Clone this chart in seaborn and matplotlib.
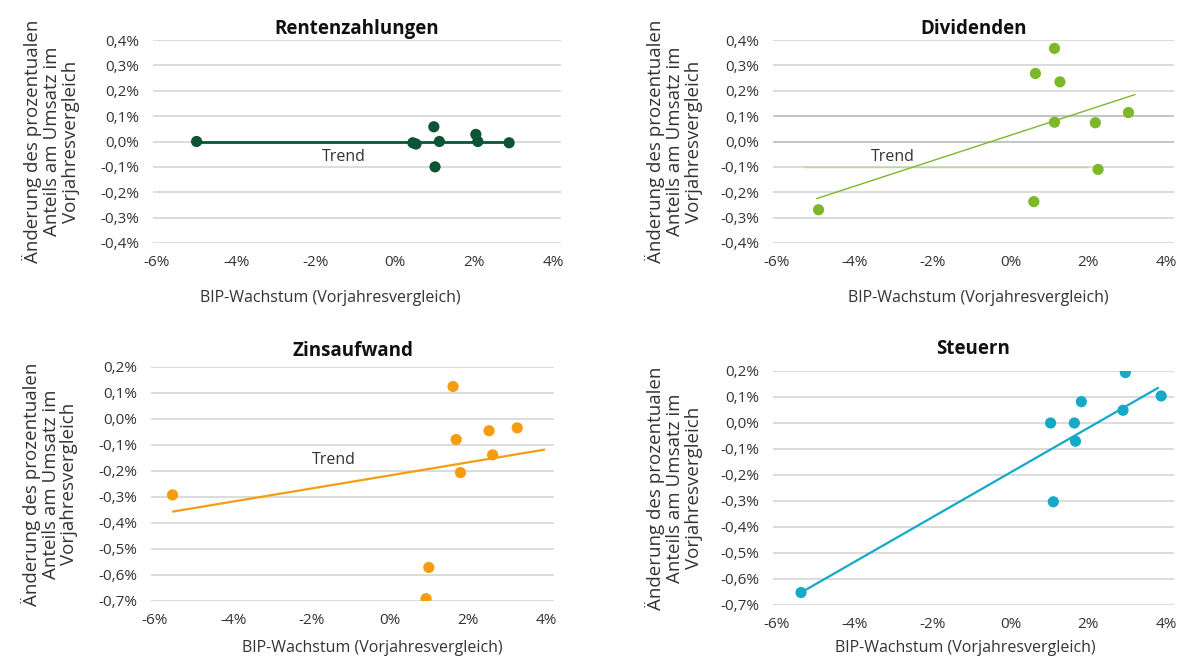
import numpy as np
import pandas as pd
import seaborn as sns
import matplotlib.pyplot as plt
from matplotlib.ticker import FuncFormatter

# Daten (BIP-Wachstum in %, Änderung in %)
renten_x = [-5.0, 0.46, 0.54, 0.99, 1.13, 1.02, 2.05, 2.10, 2.89]
renten_y = [0.0, -0.005, -0.01, 0.058, 0.0, -0.10, 0.028, 0.0, -0.005]
renten_trend_x = [-5.0, 2.9]
renten_trend_y = [0.0, 0.0]

divid_x = [1.13, 0.64, 1.27, 1.13, 2.18, 3.03, 2.25, 0.60, -4.93]
divid_y = [0.367, 0.268, 0.235, 0.076, 0.074, 0.114, -0.11, -0.237, -0.269]
divid_trend_x = [-4.98, 3.2]
divid_trend_y = [-0.225, 0.185]

zins_x = [-5.55, 1.62, 1.70, 2.54, 3.26, 2.63, 1.81, 1.00, 0.93]
zins_y = [-0.292, 0.125, -0.079, -0.045, -0.034, -0.138, -0.206, -0.571, -0.691]
zins_trend_x = [-5.54, 3.95]
zins_trend_y = [-0.356, -0.118]

steuer_x = [-5.38, 1.03, 1.10, 1.64, 1.67, 1.82, 2.89, 2.95, 3.87]
steuer_y = [-0.652, 0.0, -0.303, 0.0, -0.07, 0.082, 0.049, 0.194, 0.104]
steuer_trend_x = [-5.38, 3.79]
steuer_trend_y = [-0.652, 0.135]

titel = ["Rentenzahlungen", "Dividenden", "Zinsaufwand", "Steuern"]
farben = ["#0b5534", "#7cb82a", "#f59d0e", "#15a9c8"]

sns.set_theme(style="white")
plt.rcParams['font.family'] = ['Open Sans', 'DejaVu Sans']

fig = plt.figure(figsize=(11.77, 6.57), dpi=100)
W, H = 1177, 657

def achse(left, top, right, bottom):
    return fig.add_axes([left / W, 1 - bottom / H, (right - left) / W, (bottom - top) / H])

axes = [
    achse(153, 40, 561, 243),
    achse(773, 40, 1174, 243),
    achse(151, 367, 554, 601),
    achse(773, 371, 1174, 605),
]

daten = [
    (renten_x, renten_y, renten_trend_x, renten_trend_y),
    (divid_x, divid_y, divid_trend_x, divid_trend_y),
    (zins_x, zins_y, zins_trend_x, zins_trend_y),
    (steuer_x, steuer_y, steuer_trend_x, steuer_trend_y),
]
ylims = [(-0.4, 0.4), (-0.4, 0.4), (-0.7, 0.2), (-0.7, 0.2)]
trend_lw = [2.0, 1.0, 1.6, 1.6]
xlabel_pos = [(0.434, -0.23), (0.511, -0.23), (0.55, -0.165), (0.479, -0.148)]
ylabel_x = [-0.18, -0.175, -0.18, -0.175]
title_pad = [4, 4, 8, 12]
trend_text = [(-1.28, -0.063), (-3.02, -0.063), (-1.42, -0.158), None]

pct = FuncFormatter(lambda v, p: f"{v:.0f}%")
pct1 = FuncFormatter(lambda v, p: f"{v:.1f}%".replace(".", ",").replace("-0,0", "0,0"))

for i, ax in enumerate(axes):
    x, y, tx, ty = daten[i]
    lo, hi = ylims[i]
    ax.set_xlim(-6.1, 4.2)
    ax.set_ylim(lo, hi)
    ticks = np.round(np.arange(lo, hi + 0.001, 0.1), 1)
    ax.set_yticks(ticks)
    ax.set_xticks([-6, -4, -2, 0, 2, 4])
    for t in ticks:
        c = "#d9d9d9"
        if i == 1 and t in (0.1, 0.0):
            c = "#bfbfbf"
        ax.axhline(t, color=c, lw=1.3, zorder=0)
    if i == 1:
        ax.plot([-5.3, 2.0], [-0.1, -0.1], color="#b9d98a", lw=1.0, zorder=1)
    sns.lineplot(x=tx, y=ty, ax=ax, color=farben[i], lw=trend_lw[i], zorder=2)
    sns.scatterplot(x=x, y=y, ax=ax, color=farben[i], s=65, edgecolor="none", zorder=3)
    for s in ax.spines.values():
        s.set_visible(False)
    ax.xaxis.set_major_formatter(pct)
    ax.yaxis.set_major_formatter(pct1)
    ax.tick_params(axis="both", length=0, labelsize=11, colors="#333333")
    ax.tick_params(axis="x", pad=9)
    ax.tick_params(axis="y", pad=10)
    ax.set_title(titel[i], fontsize=13.5, fontweight="bold", color="#111111", pad=title_pad[i])
    ax.set_xlabel("BIP-Wachstum (Vorjahresvergleich)", fontsize=11.5, color="#333333")
    ax.xaxis.set_label_coords(*xlabel_pos[i])
    ax.set_ylabel("Änderung des prozentualen\nAnteils am Umsatz im\nVorjahresvergleich",
                  fontsize=13.5, color="#333333", linespacing=1.05)
    ax.yaxis.set_label_coords(ylabel_x[i], 0.5)
    if trend_text[i] is not None:
        ax.text(trend_text[i][0], trend_text[i][1], "Trend", fontsize=11.5, color="#333333",
                ha="center", va="center")

fig.savefig("out.png", dpi=100)
